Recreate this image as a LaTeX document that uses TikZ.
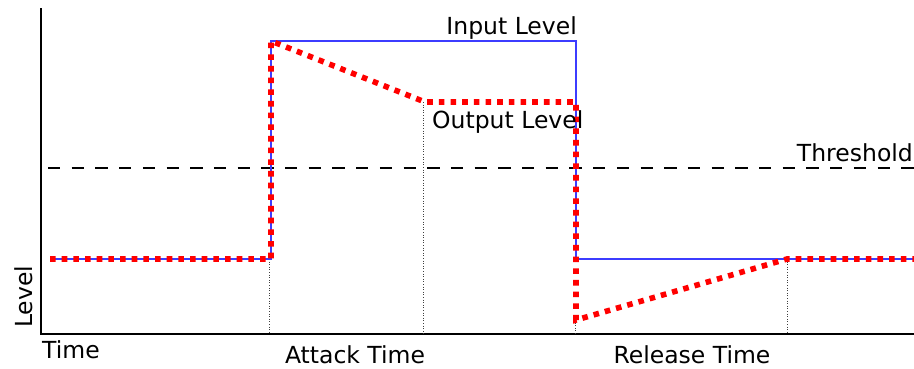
\documentclass[tikz,border=0pt]{standalone}
\usepackage{fontspec}
\setmainfont{DejaVu Sans}
\definecolor{inblue}{RGB}{60,60,255}
\begin{document}
\begin{tikzpicture}[x=1pt,y=-1pt,
  axisline/.style={line width=1.4pt,black},
  inline/.style={line width=1.4pt,inblue},
  outline/.style={line width=5.6pt,red,dash pattern=on 5.6pt off 6.07pt},
  guide/.style={line width=0.9pt,black!75,dash pattern=on 1pt off 1.6pt},
  thr/.style={line width=1.2pt,black,dash pattern=on 12.3pt off 11.4pt},
  lbl/.style={inner sep=0pt,font=\fontsize{23.5}{27}\selectfont}]
\useasboundingbox (0,0) rectangle (914,368);
% coordinates
\coordinate (ytop) at (41,8);
\coordinate (org) at (41,334);
\coordinate (xend) at (914,334);
\coordinate (s0) at (50,259);
\coordinate (a0) at (271,259);
\coordinate (a1) at (271,41);
\coordinate (b1) at (576,41);
\coordinate (b0) at (576,259);
\coordinate (e0) at (914,259);
\coordinate (c1) at (425,102);
\coordinate (d1) at (576,102);
\coordinate (d0) at (576,320);
\coordinate (r0) at (787,259);
\coordinate (t0) at (48,168);
\coordinate (t1) at (914,168);
\coordinate (g1a) at (269,259); \coordinate (g1b) at (269,334);
\coordinate (g2a) at (423,102); \coordinate (g2b) at (423,334);
\coordinate (g3a) at (575,320); \coordinate (g3b) at (575,334);
\coordinate (g4a) at (787,259); \coordinate (g4b) at (787,334);
% axes
\draw[axisline] (ytop) -- (org) -- (xend);
% threshold
\draw[thr] (t0) -- (t1);
% guides
\draw[guide] (g1a) -- (g1b);
\draw[guide] (g2a) -- (g2b);
\draw[guide] (g3a) -- (g3b);
\draw[guide] (g4a) -- (g4b);
% input
\draw[inline] (s0) -- (a0) -- (a1) -- (b1) -- (b0) -- (e0);
% output
\draw[outline] (s0) -- (a0) -- (a1) -- (c1) -- (d1) -- (d0) -- (r0) -- (e0);
% labels
\node[lbl,anchor=base east] (inlab) at (577,34) {Input Level};
\node[lbl,anchor=base west] (outlab) at (432,128) {Output Level};
\node[lbl,anchor=base east] (thrlab) at (913,161) {Threshold};
\node[lbl,anchor=base west,rotate=90] (levlab) at (32,328) {Level};
\node[lbl,anchor=base west] (timelab) at (42,358) {Time};
\node[lbl,anchor=base] (attlab) at (355,363) {Attack Time};
\node[lbl,anchor=base] (rellab) at (692,363) {Release Time};
\end{tikzpicture}
\end{document}
